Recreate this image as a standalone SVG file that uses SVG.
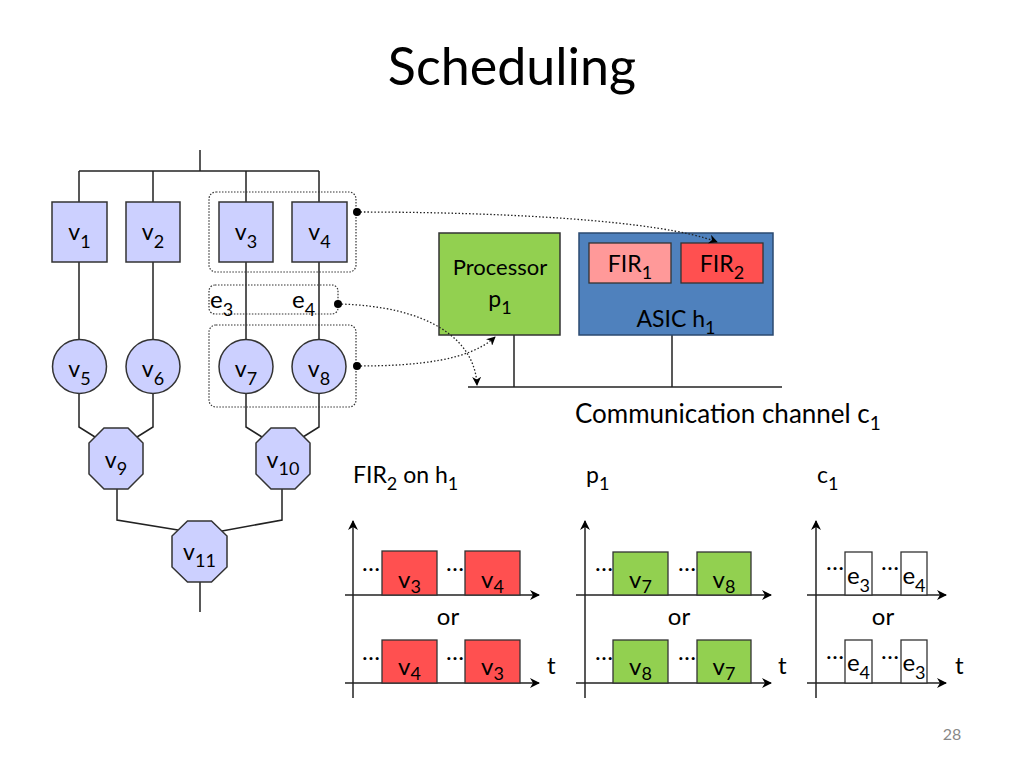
<svg xmlns="http://www.w3.org/2000/svg" width="1024" height="768" viewBox="0 0 1024 768">
<defs>
<marker id="ah" viewBox="0 0 10 10" refX="9" refY="5" markerWidth="9" markerHeight="9" markerUnits="userSpaceOnUse" orient="auto">
<path d="M0,0 L10,5 L0,10 L3,5 z" fill="#000"/>
</marker>
<marker id="ax" viewBox="0 0 10 10" refX="9" refY="5" markerWidth="10" markerHeight="10" markerUnits="userSpaceOnUse" orient="auto">
<path d="M0,0 L10,5 L0,10 L3,5 z" fill="#000"/>
</marker>
</defs>
<style>
text{font-family:Lato,"Liberation Sans",sans-serif;fill:#000}
.lbl{font-size:23px;text-anchor:middle}
.sub{font-size:18px}
.ln{fill:none;stroke:#222;stroke-width:1.5}
.node{fill:#CCD0FF;stroke:#333;stroke-width:1.5}
.grp{fill:none;stroke:#333;stroke-width:1.2;stroke-dasharray:1.5 1.5}
.dot{fill:none;stroke:#222;stroke-width:1.3;stroke-dasharray:1.5 2}
.ax{fill:none;stroke:#222;stroke-width:1.5;marker-end:url(#ax)}
.red{fill:#FF5050;stroke:#333;stroke-width:1.3}
.grn{fill:#92D050;stroke:#333;stroke-width:1.3}
.wht{fill:#fff;stroke:#333;stroke-width:1.3}
.sl{font-size:24px;text-anchor:middle}
.el{font-size:24px}
</style>
<rect width="1024" height="768" fill="#fff"/>
<text x="512" y="85" style="font-size:52px;text-anchor:middle">Scheduling</text>

<g id="connectors">
<polyline class="ln" points="200,150 200,171"/>
<polyline class="ln" points="79,171 319,171"/>
<polyline class="ln" points="79,171 79,427 95,437"/>
<polyline class="ln" points="153,171 153,427 137,437"/>
<polyline class="ln" points="246,171 246,427 262,437"/>
<polyline class="ln" points="319,171 319,427 303,437"/>
<polyline class="ln" points="117,489 117,520 178,530"/>
<polyline class="ln" points="282,489 282,520 222,531"/>
<polyline class="ln" points="200,582 200,612"/>
<polyline class="ln" points="514,335 514,387"/>
<polyline class="ln" points="672,335 672,387"/>
<polyline class="ln" points="468,387 782,387"/>
</g>

<g id="group-v3v4"><rect class="grp" x="209" y="192" width="147" height="80" rx="7"/></g>
<g id="group-e"><rect class="grp" x="209" y="285" width="129" height="29" rx="6"/></g>
<g id="group-v7v8"><rect class="grp" x="209" y="325" width="147" height="82" rx="7"/></g>

<g id="v1"><rect class="node" x="52" y="202" width="55" height="60"/><text class="lbl" x="79.5" y="240">v<tspan class="sub" dy="8">1</tspan></text></g>
<g id="v2"><rect class="node" x="126" y="202" width="54" height="60"/><text class="lbl" x="153" y="240">v<tspan class="sub" dy="8">2</tspan></text></g>
<g id="v3"><rect class="node" x="219" y="202" width="54" height="60"/><text class="lbl" x="246" y="240">v<tspan class="sub" dy="8">3</tspan></text></g>
<g id="v4"><rect class="node" x="292" y="202" width="55" height="60"/><text class="lbl" x="319.5" y="240">v<tspan class="sub" dy="8">4</tspan></text></g>

<g id="e3"><text x="210" y="308" style="font-size:24px">e<tspan class="sub" dy="8">3</tspan></text></g>
<g id="e4"><text x="292" y="308" style="font-size:24px">e<tspan class="sub" dy="8">4</tspan></text></g>

<g id="v5"><circle class="node" cx="79.5" cy="366.5" r="27"/><text class="lbl" x="79.5" y="377">v<tspan class="sub" dy="8">5</tspan></text></g>
<g id="v6"><circle class="node" cx="153" cy="366.5" r="27"/><text class="lbl" x="153" y="377">v<tspan class="sub" dy="8">6</tspan></text></g>
<g id="v7"><circle class="node" cx="246" cy="366.5" r="27"/><text class="lbl" x="246" y="377">v<tspan class="sub" dy="8">7</tspan></text></g>
<g id="v8"><circle class="node" cx="319" cy="366.5" r="27"/><text class="lbl" x="319" y="377">v<tspan class="sub" dy="8">8</tspan></text></g>

<g id="v9"><polygon class="node" points="104,428 128,428 143,443 143,474 128,489 104,489 89,474 89,443"/><text class="lbl" x="116" y="468">v<tspan class="sub" dy="7">9</tspan></text></g>
<g id="v10"><polygon class="node" points="271,428 295,428 310,443 310,474 295,489 271,489 256,474 256,443"/><text class="lbl" x="283" y="468">v<tspan class="sub" dy="7">10</tspan></text></g>
<g id="v11"><polygon class="node" points="187.5,521 211.5,521 227,536 227,567 211.5,582 187.5,582 172,567 172,536"/><text class="lbl" x="199.5" y="560">v<tspan class="sub" dy="7">11</tspan></text></g>

<g id="processor"><rect x="439" y="233" width="121" height="102" fill="#92D050" stroke="#333" stroke-width="1.5"/>
<text x="500" y="275" style="font-size:22px;text-anchor:middle">Processor</text>
<text x="500" y="307" style="font-size:23px;text-anchor:middle">p<tspan class="sub" dy="7">1</tspan></text></g>

<g id="asic"><rect x="579" y="233" width="194" height="102" fill="#4F81BD" stroke="#2B4A70" stroke-width="1.5"/>
<text x="676" y="327" style="font-size:23px;text-anchor:middle">ASIC h<tspan class="sub" dy="7">1</tspan></text></g>
<g id="fir1"><rect x="589" y="243" width="82" height="40" fill="#FF9999" stroke="#333" stroke-width="1.3"/><text x="630" y="272" style="font-size:23px;text-anchor:middle">FIR<tspan class="sub" dy="7">1</tspan></text></g>
<g id="fir2"><rect x="681" y="243" width="82" height="40" fill="#FF5050" stroke="#333" stroke-width="1.3"/><text x="722" y="272" style="font-size:23px;text-anchor:middle">FIR<tspan class="sub" dy="7">2</tspan></text></g>

<text x="575" y="423" style="font-size:26px">Communication channel c<tspan class="sub" dy="7" style="font-size:19px">1</tspan></text>

<g id="mapping-links">
<path class="dot" d="M357,212 C500,212 660,220 717,242" marker-end="url(#ah)"/>
<path class="dot" d="M338,304 C430,306 475,340 477,385" marker-end="url(#ah)"/>
<path class="dot" d="M357,366 C420,366 470,360 495,337" marker-end="url(#ah)"/>
<circle cx="357" cy="212" r="4" fill="#000"/>
<circle cx="338" cy="304" r="4" fill="#000"/>
<circle cx="357" cy="366" r="4" fill="#000"/>
</g>

<g id="sched-fir2">
<text x="353" y="483" style="font-size:23px">FIR<tspan class="sub" dy="7">2</tspan><tspan dy="-7"> on h</tspan><tspan class="sub" dy="7">1</tspan></text>
<line class="ax" x1="353" y1="698" x2="353" y2="521"/>
<line class="ax" x1="345" y1="595" x2="539" y2="595"/>
<line class="ax" x1="345" y1="683" x2="539" y2="683"/>
<rect class="red" x="382" y="551" width="55" height="44"/>
<rect class="red" x="465" y="551" width="55" height="44"/>
<rect class="red" x="382" y="640" width="55" height="43"/>
<rect class="red" x="465" y="640" width="55" height="43"/>
<text class="el" x="362" y="571">…</text><text class="el" x="446" y="571">…</text>
<text class="el" x="362" y="660">…</text><text class="el" x="446" y="660">…</text>
<text class="sl" x="409.5" y="588">v<tspan class="sub" dy="5">3</tspan></text>
<text class="sl" x="492.5" y="588">v<tspan class="sub" dy="5">4</tspan></text>
<text class="sl" x="409.5" y="675">v<tspan class="sub" dy="5">4</tspan></text>
<text class="sl" x="492.5" y="675">v<tspan class="sub" dy="5">3</tspan></text>
<text class="sl" x="448" y="625">or</text>
<text x="547" y="674" style="font-size:24px">t</text>
</g>

<g id="sched-p1">
<text x="586" y="483" style="font-size:23px">p<tspan class="sub" dy="7">1</tspan></text>
<line class="ax" x1="585" y1="698" x2="585" y2="521"/>
<line class="ax" x1="576" y1="595" x2="771" y2="595"/>
<line class="ax" x1="576" y1="683" x2="771" y2="683"/>
<rect class="grn" x="613" y="552" width="55" height="43"/>
<rect class="grn" x="697" y="552" width="54" height="43"/>
<rect class="grn" x="613" y="640" width="55" height="43"/>
<rect class="grn" x="697" y="640" width="54" height="43"/>
<text class="el" x="595" y="571">…</text><text class="el" x="678" y="571">…</text>
<text class="el" x="595" y="660">…</text><text class="el" x="678" y="660">…</text>
<text class="sl" x="640.5" y="588">v<tspan class="sub" dy="5">7</tspan></text>
<text class="sl" x="724" y="588">v<tspan class="sub" dy="5">8</tspan></text>
<text class="sl" x="640.5" y="675">v<tspan class="sub" dy="5">8</tspan></text>
<text class="sl" x="724" y="675">v<tspan class="sub" dy="5">7</tspan></text>
<text class="sl" x="679" y="625">or</text>
<text x="778" y="674" style="font-size:24px">t</text>
</g>

<g id="sched-c1">
<text x="817" y="483" style="font-size:23px">c<tspan class="sub" dy="7">1</tspan></text>
<line class="ax" x1="816" y1="698" x2="816" y2="521"/>
<line class="ax" x1="807" y1="595" x2="946" y2="595"/>
<line class="ax" x1="807" y1="683" x2="946" y2="683"/>
<rect class="wht" x="845" y="552" width="27" height="43"/>
<rect class="wht" x="901" y="552" width="26" height="43"/>
<rect class="wht" x="845" y="640" width="27" height="43"/>
<rect class="wht" x="901" y="640" width="26" height="43"/>
<text class="el" x="826" y="570">…</text><text class="el" x="881" y="570">…</text>
<text class="el" x="826" y="659">…</text><text class="el" x="881" y="659">…</text>
<text class="sl" x="858.5" y="584">e<tspan class="sub" dy="8">3</tspan></text>
<text class="sl" x="914" y="584">e<tspan class="sub" dy="8">4</tspan></text>
<text class="sl" x="858.5" y="671">e<tspan class="sub" dy="8">4</tspan></text>
<text class="sl" x="914" y="671">e<tspan class="sub" dy="8">3</tspan></text>
<text class="sl" x="883" y="625">or</text>
<text x="955" y="674" style="font-size:24px">t</text>
</g>

<text x="952" y="740" style="font-size:16px;fill:#888;text-anchor:middle">28</text>
</svg>
